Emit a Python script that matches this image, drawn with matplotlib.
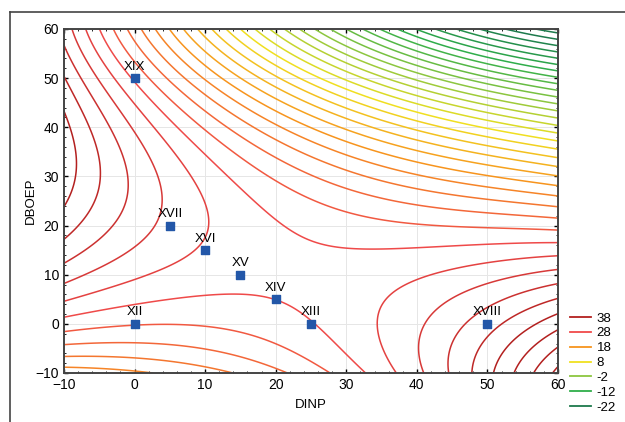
import numpy as np
import matplotlib.pyplot as plt
from matplotlib.colors import LinearSegmentedColormap, Normalize
from matplotlib.lines import Line2D

plt.rcParams['font.family'] = ['Liberation Sans', 'DejaVu Sans']

# values at the tick grid (rows: DBOEP, cols: DINP)
dinp = [-10, 0, 10, 20, 30, 40, 50, 60]
dboep = [-10, 0, 10, 20, 30, 40, 50, 60]
z_rows = [
    [19.0, 19.8, 21.0, 23.4, 27.0, 31.5, 37.0, 45.0],
    [26.7, 26.0, 26.2, 27.2, 28.9, 31.4, 36.0, 38.5],
    [33.0, 30.6, 29.2, 29.0, 29.0, 30.2, 30.8, 32.8],
    [36.9, 33.0, 29.7, 27.5, 26.5, 25.8, 25.8, 25.5],
    [39.3, 33.5, 29.0, 25.8, 22.5, 20.0, 18.5, 16.6],
    [38.8, 31.0, 26.5, 21.0, 16.0, 11.5, 7.0, 4.1],
    [35.7, 28.0, 19.5, 12.0, 5.5, -0.5, -5.0, -10.0],
    [33.3, 23.0, 13.0, 3.0, -6.0, -14.0, -21.0, -25.0],
]

# experimental points
pt_names = ['XII', 'XIII', 'XIV', 'XV', 'XVI', 'XVII', 'XVIII', 'XIX']
pt_x = [0, 25, 20, 15, 10, 5, 50, 0]
pt_y = [0, 0, 5, 10, 15, 20, 0, 50]

legend_levels = [38, 28, 18, 8, -2, -12, -22]
legend_colors = ['#b3201f', '#f04a4a', '#f7941d', '#f0e020', '#8cc63f', '#2fae4a', '#1d7a4c']

# polynomial response surface fitted to the read values
X, Y = np.meshgrid(dinp, dboep)
Z = np.array(z_rows)
deg = 5
terms = [(i, j) for i in range(deg + 1) for j in range(deg + 1 - i)]
def design(x, y):
    xs, ys = (np.asarray(x) - 25) / 35.0, (np.asarray(y) - 25) / 35.0
    return np.stack([xs ** i * ys ** j for i, j in terms], axis=-1)
coef, *_ = np.linalg.lstsq(design(X.ravel(), Y.ravel()), Z.ravel(), rcond=None)

gx, gy = np.meshgrid(np.linspace(-10, 60, 300), np.linspace(-10, 60, 300))
gz = design(gx, gy) @ coef

cmap = LinearSegmentedColormap.from_list('rg', list(zip(
    [(v + 22) / 60.0 for v in legend_levels[::-1]], legend_colors[::-1])))
norm = Normalize(vmin=-22, vmax=38, clip=True)

fig = plt.figure(figsize=(6.25, 4.22), dpi=100)
ax = fig.add_axes([64 / 625, 1 - 373 / 422, (558 - 64) / 625, (373 - 29) / 422])

levels = np.arange(-40, 60, 2)
ax.contour(gx, gy, gz, levels=levels, cmap=cmap, norm=norm, linewidths=1.1)

ax.scatter(pt_x, pt_y, marker='s', s=26, color='#2357a8', zorder=5)
for n, x, y in zip(pt_names, pt_x, pt_y):
    ax.annotate(n, (x, y), xytext=(0, 4), textcoords='offset points',
                ha='center', va='bottom', fontsize=9.5, zorder=6)

ax.set_xlim(-10, 60)
ax.set_ylim(-10, 60)
ax.set_xticks(dinp)
ax.set_yticks(dboep)
ax.set_xticks(np.arange(-10, 61, 2), minor=True)
ax.set_yticks(np.arange(-10, 61, 2), minor=True)
ax.tick_params(which='both', direction='in', top=True, right=True, labelsize=10)
ax.tick_params(which='major', length=3, width=1)
ax.tick_params(which='minor', length=1.5, width=0.6)
ax.grid(True, color='#e6e6e6', linewidth=0.7)
ax.set_axisbelow(True)
for s in ax.spines.values():
    s.set_linewidth(1.4)
    s.set_color('#444444')
ax.set_xlabel('DINP', fontsize=9.5, labelpad=5)
ax.set_ylabel('DBOEP', fontsize=9.5, labelpad=-1)

# outer frame
fig.add_artist(Line2D([10 / 625, 1], [1 - 12 / 422] * 2, color='#444444', lw=1.2))
fig.add_artist(Line2D([10 / 625] * 2, [0, 1 - 12 / 422], color='#444444', lw=1.2))

handles = [Line2D([], [], color=c, lw=1.3) for c in legend_colors]
fig.legend(handles, [str(v) for v in legend_levels], loc='upper left',
           bbox_to_anchor=(565 / 625, 1 - 307 / 422), frameon=False,
           fontsize=9.5, handlelength=1.6, handletextpad=0.4, labelspacing=0.2,
           borderaxespad=0)

fig.savefig('out.png', dpi=100)
